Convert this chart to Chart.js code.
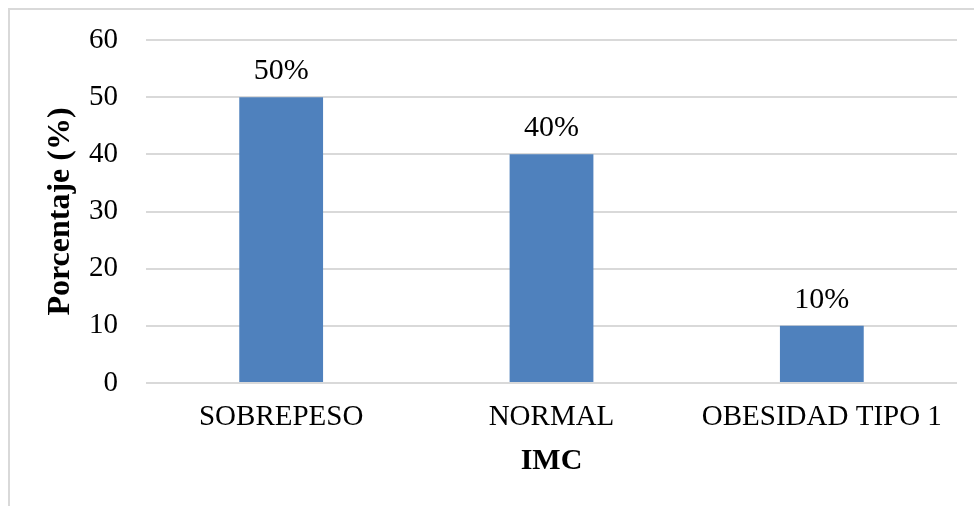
<!DOCTYPE html>
<html>
<head>
<meta charset="utf-8">
<script src="https://cdn.jsdelivr.net/npm/chart.js@4"></script>
<style>
  html, body { margin: 0; padding: 0; background: #fff; overflow: hidden; }
  #imcChart { position: absolute; left: 0; top: 0; }
  #frame { position: absolute; left: 8px; top: 8px; width: 1000px; height: 600px;
           border-top: 2px solid #d9d9d9; border-left: 2px solid #d9d9d9; }
</style>
</head>
<body>
<div id="frame"></div>
<canvas id="imcChart" width="974" height="506"></canvas>
<script>
// data
const categories = ['SOBREPESO', 'NORMAL', 'OBESIDAD TIPO 1'];
const percentages = [50, 40, 10];
const yTicks = [0, 10, 20, 30, 40, 50, 60];

const serif = '"Liberation Serif", "Times New Roman", serif';

// simple value labels above each bar
const barLabels = {
    id: 'barLabels',
    afterDatasetsDraw(chart) {
        const ctx = chart.ctx;
        const meta = chart.getDatasetMeta(0);
        ctx.save();
        ctx.font = '30px ' + serif;
        ctx.fillStyle = '#000';
        ctx.textAlign = 'center';
        ctx.textBaseline = 'alphabetic';
        meta.data.forEach((bar, i) => {
            ctx.fillText(percentages[i] + '%', bar.x, bar.y - 18);
        });
        ctx.restore();
    }
};

const ctx = document.getElementById('imcChart').getContext('2d');
const imcChart = new Chart(ctx, {
    type: 'bar',
    data: {
        labels: categories,
        datasets: [{
            data: percentages,
            backgroundColor: '#4f81bd',
            borderWidth: 0,
            categoryPercentage: 1,
            barPercentage: 0.31
        }]
    },
    options: {
        responsive: false,
        animation: false,
        layout: { autoPadding: false, padding: { left: 22, right: 17, top: 40, bottom: 0 } },
        plugins: {
            legend: { display: false },
            tooltip: { enabled: false }
        },
        scales: {
            x: {
                grid: { display: false, drawTicks: false },
                border: { display: false },
                ticks: { color: '#000', font: { family: serif, size: 29 }, padding: 17, maxRotation: 0 },
                title: {
                    display: true, text: 'IMC', color: '#000',
                    font: { family: serif, size: 30, weight: 'bold' },
                    padding: { top: 0, bottom: 27 }
                },
                afterFit(scale) { scale.height = 123; }
            },
            y: {
                min: 0,
                max: 60,
                afterBuildTicks(scale) { scale.ticks = yTicks.map(v => ({ value: v })); },
                // invisible tick marks keep the labels away from the plot
                grid: { color: '#d9d9d9', lineWidth: 2, drawTicks: true, tickLength: 28, tickColor: 'rgba(0,0,0,0)' },
                border: { display: false },
                ticks: { color: '#000', font: { family: serif, size: 29 }, padding: 0 },
                title: {
                    display: true, text: 'Porcentaje (%)', color: '#000',
                    font: { family: serif, size: 32, weight: 'bold' },
                    padding: { top: 20, bottom: 0 }
                },
                afterFit(scale) { scale.width = 124; }
            }
        }
    },
    plugins: [barLabels]
});
</script>
</body>
</html>
